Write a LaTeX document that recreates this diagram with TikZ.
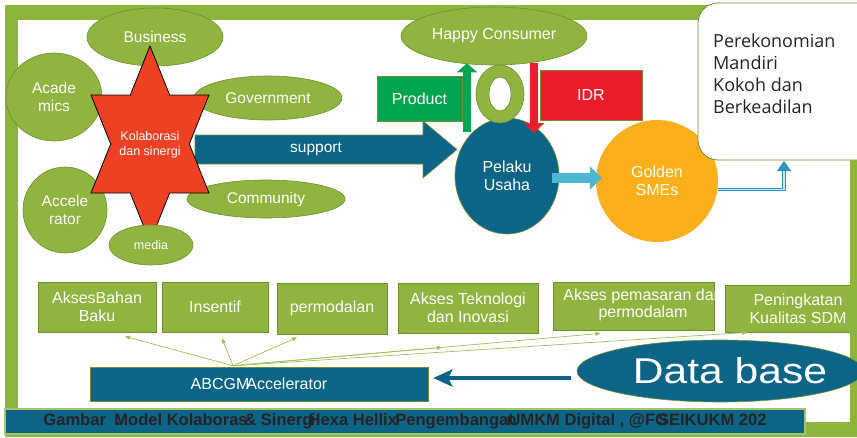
\documentclass[tikz,border=0pt]{standalone}
\usepackage{fontspec}
\setmainfont{Liberation Sans}
\newfontfamily\bodyfont{Open Sans}
\usetikzlibrary{shapes.geometric,arrows.meta,calc}

\definecolor{frameGreen}{HTML}{8DB53D}
\definecolor{leaf}{HTML}{8FB43F}
\definecolor{leafEdge}{HTML}{718F32}
\definecolor{thinGreen}{HTML}{9DBF5C}
\definecolor{deepTeal}{HTML}{0C6586}
\definecolor{starRed}{HTML}{EE4124}
\definecolor{prodGreen}{HTML}{00A54F}
\definecolor{idrRed}{HTML}{ED1C2A}
\definecolor{skyArrow}{HTML}{4DB6D3}
\definecolor{gold}{HTML}{FBB01B}
\definecolor{linkBlue}{HTML}{2A93C4}
\definecolor{linkPale}{HTML}{CDE9F3}
\definecolor{inkGray}{HTML}{262324}
\definecolor{bannerEdge}{HTML}{A8C46A}

\tikzset{
  blob/.style={ellipse, fill=leaf, draw=leafEdge, line width=0.6pt, inner sep=0pt,
    text=white, align=center, font=\fontsize{15.5}{18}\selectfont},
  tile/.style={rectangle, fill=leaf, draw=leafEdge, line width=0.8pt, inner sep=0pt,
    text=white, align=center, font=\fontsize{16}{18}\selectfont},
  flatbox/.style={rectangle, draw=leafEdge, line width=0.6pt, inner sep=0pt,
    text=white, align=center, font=\fontsize{16}{18}\selectfont},
  whitetext/.style={text=white, align=center, inner sep=0pt},
  hub link/.style={draw=thinGreen, line width=0.7pt, -{Triangle[length=5pt,width=4pt]}},
}

\begin{document}
\begin{tikzpicture}[x=1pt,y=-1pt]
\useasboundingbox (0,0) rectangle (857,437);
\fill[white] (0,0) rectangle (857,437);

% green frame
\fill[frameGreen] (5,5) rectangle (857,437);
\fill[white] (18,20) rectangle (850,422);

% block arrow behind the star
\filldraw[fill=deepTeal, draw=leafEdge, line width=0.6pt]
  (195,135) -- (423,135) -- (423,121) -- (457,149.5) -- (423,178) -- (423,164) -- (195,164) -- cycle;
\node[whitetext, font=\fontsize{15.5}{18}\selectfont] (support) at (316,149) {support};

% partners
\node[blob, minimum width=136, minimum height=58] (business) at (155,37) {Business};
\node[blob, minimum width=96, minimum height=88] (academics) at (54,97) {Acade\\mics};
\node[blob, minimum width=148, minimum height=44] (government) at (268,98) {Government};
\node[blob, minimum width=84, minimum height=86] (accel) at (65,210) {Accele\\rator};
\node[blob, minimum width=158, minimum height=38] (community) at (266,199) {Community};

% hexagram
\begin{scope}[shift={(150,144)}]
\draw[fill=starRed, draw=black, line width=0.8pt]
  (0,-98) -- (19.7,-49) -- (59,-49) -- (39.3,0) -- (59,49) -- (19.7,49) -- (0,98)
  -- (-19.7,49) -- (-59,49) -- (-39.3,0) -- (-59,-49) -- (-19.7,-49) -- cycle;
\end{scope}
\node[whitetext, font=\fontsize{12.5}{15}\selectfont] (collab) at (150,145) {Kolaborasi\\dan sinergi};

\node[blob, minimum width=84, minimum height=40, font=\fontsize{12.5}{15}\selectfont] (media) at (151,245) {media};

% consumer loop
\node[blob, minimum width=186, minimum height=58, font=\fontsize{16}{18}\selectfont] (happy) at (494,36) {Happy Consumer};
\node[flatbox, fill=prodGreen, minimum width=85, minimum height=45] (product) at (419.5,98.5) {Product};
\node[flatbox, fill=idrRed, minimum width=102, minimum height=50] (idr) at (591,95) {IDR};
\node[ellipse, fill=deepTeal, draw=leafEdge, line width=0.6pt, inner sep=0pt, minimum width=104, minimum height=116,
  whitetext, font=\fontsize{16}{18}\selectfont] (pelaku) at (507,176) {Pelaku\\Usaha};
\filldraw[fill=leaf, draw=leafEdge, line width=0.6pt, even odd rule]
  (500,94) ellipse [x radius=24pt, y radius=29pt]
  (500,94) ellipse [x radius=11pt, y radius=17pt];

\coordinate (upfoot) at (467,132);
\coordinate (downtip) at (534,133);
\draw[line width=8pt, prodGreen, -{Triangle[length=9pt,width=20pt]}] (upfoot) -- ($(upfoot |- happy.south)+(0,-2)$);
\draw[line width=8pt, idrRed, -{Triangle[length=10pt,width=20pt]}] ($(downtip |- happy.south)+(0,-2)$) -- (downtip);

% golden SMEs
\node[circle, fill=gold, inner sep=0pt, minimum size=122, whitetext, font=\fontsize{16}{18}\selectfont] (golden) at (657,181) {Golden\\SMEs};
\draw[line width=10pt, skyArrow, -{Triangle[length=12pt,width=23pt]}]
  ($(pelaku.east)+(-7,2)$) -- ($(golden.west)+(6,-3)$);

% goal box
\fill[frameGreen] (850,20) rectangle (857,160);
\node[rectangle, rounded corners=20pt, fill=white, draw=leafEdge, line width=0.8pt,
  minimum width=182, minimum height=157, inner sep=0pt] (goal) at (789,81.5) {};
\node[anchor=north west, align=left, inner sep=0pt, text=inkGray,
  font=\bodyfont\fontsize{18}{22}\selectfont] (goaltext) at (713,33.5) {Perekonomian\\Mandiri\\Kokoh dan\\Berkeadilan};

\coordinate (goalfoot) at (784,161);
\draw[gray!30, line width=2.5pt, shift={(1.5,2.5)}] (golden.-8) -| ($(goalfoot)+(0,12)$);
\draw[linkBlue, line width=0.9pt, double=linkPale, double distance=1.4pt,
  -{Triangle[length=10pt,width=14pt]}] (golden.-8) -| (goalfoot);

% support programmes
\node[tile, minimum width=118, minimum height=50] (t1) at (97,307) {AksesBahan\\Baku};
\node[tile, minimum width=106, minimum height=50] (t2) at (215,307) {Insentif};
\node[tile, minimum width=110, minimum height=51] (t3) at (332,308.5) {permodalan};
\node[tile, minimum width=140, minimum height=50] (t4) at (468,308) {Akses Teknologi\\dan Inovasi};
\node[tile, minimum width=161, minimum height=48] (t5) at (633.5,306) {};
\begin{scope}
\clip (t5.south west) rectangle (t5.north east);
\node[whitetext, font=\fontsize{16}{17}\selectfont] (t5text) at (643,305) {Akses pemasaran dan\\permodalam};
\end{scope}
\node[tile, minimum width=146, minimum height=47] (t6) at (798,308.5) {Peningkatan\\Kualitas SDM};
\fill[frameGreen] (850,160) rectangle (857,437);

% accelerator and data base
\node[flatbox, fill=deepTeal, minimum width=338, minimum height=34] (abcgm) at (259,384) {ABCGM\kern-3pt Accelerator};
\node[ellipse, fill=deepTeal, draw=leafEdge, line width=0.6pt, inner sep=0pt,
  minimum width=286, minimum height=62, text=white] (database) at (720,371) {};
\node[text=white, inner sep=0pt] (dbtext) at (730,371) {\resizebox{194pt}{26pt}{Data base}};

\draw[line width=4pt, deepTeal, -{Stealth[length=19pt,width=17pt,inset=4pt]}]
  ($(database.west)+(-6,7)$) -- ($(abcgm.east)+(5,-6)$);

\coordinate (hub) at ($(abcgm.north)+(-26,-1)$);
\coordinate (a1) at ($(t1.south)+(28,4)$);
\coordinate (a2) at ($(t2.south)+(7,6)$);
\coordinate (a3) at ($(t3.south)+(-35,3)$);
\coordinate (a4) at ($(t4.south)+(-26,14)$);
\coordinate (a5) at ($(t5.south)+(-33,3)$);
\coordinate (a6) at ($(t6.south)+(-51,0)$);
\foreach \target in {a1,a2,a3,a4,a5,a6}
  \draw[hub link] (hub) -- (\target);

% caption banner
\node[rectangle, fill=deepTeal, draw=bannerEdge, line width=1.5pt, minimum width=800, minimum height=25,
  inner sep=0pt, text=inkGray] (caption) at (405,421.5)
  {\resizebox{723pt}{12pt}{\bfseries Gambar \kern3pt:\kern-4pt Model Kolaboras\kern-2pt\& Sinerg\kern-1pt i\kern-4ptHexa Hellix\kern-1ptPengembanga\kern-1ptn\kern-5ptUMKM Digital , @FG\kern-6ptSEIKUKM 202}};

\end{tikzpicture}
\end{document}
